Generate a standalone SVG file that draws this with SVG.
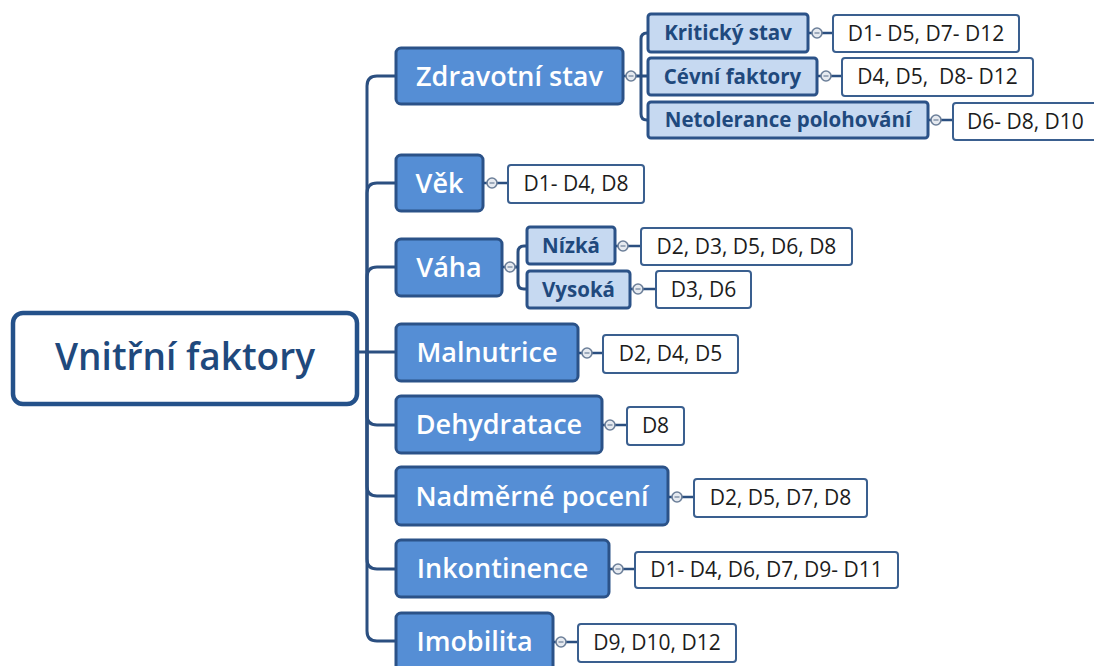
<svg xmlns="http://www.w3.org/2000/svg" width="1094" height="666" viewBox="0 0 1094 666">
<style>
.conn{fill:none;stroke:#2b4f80;stroke-width:3;stroke-linecap:round}
.lk{fill:none;stroke:#2b4f80;stroke-width:2.5}
.btn{fill:#e6eaf0;stroke:#6c7f99;stroke-width:1.6}
.btnm{stroke:#6c7f99;stroke-width:1.2}
.root{fill:#ffffff;stroke:#24518a;stroke-width:4.5}
.rootT{font-family:"Open Sans","DejaVu Sans",sans-serif;font-weight:600;font-size:37px;fill:#1f497d}
.main{fill:#558ed5;stroke:#2b5288;stroke-width:3}
.mainT{font-family:"Open Sans","DejaVu Sans",sans-serif;font-weight:600;font-size:27px;fill:#ffffff}
.sub{fill:#c6d9f1;stroke:#2b5288;stroke-width:3}
.subT{font-family:"Open Sans","DejaVu Sans",sans-serif;font-weight:700;font-size:20.5px;fill:#1f497d}
.leaf{fill:#ffffff;stroke:#3a5f8f;stroke-width:2}
.leafT{font-family:"Open Sans","DejaVu Sans",sans-serif;font-weight:400;font-size:21px;fill:#1c1c1c;white-space:pre}
</style>
<rect width="1094" height="666" fill="#ffffff"/>
<g id="connectors">
<path class="conn" d="M357,352 H396"/>
<path class="conn" d="M367,352 V86 Q367,76 377,76 H396"/>
<path class="conn" d="M367,352 V193 Q367,183 377,183 H396"/>
<path class="conn" d="M367,352 V277 Q367,267 377,267 H396"/>
<path class="conn" d="M367,352 V415 Q367,425 377,425 H396"/>
<path class="conn" d="M367,352 V486 Q367,496 377,496 H396"/>
<path class="conn" d="M367,352 V559 Q367,569 377,569 H396"/>
<path class="conn" d="M367,352 V631 Q367,641 377,641 H396"/>
<path class="conn" d="M636,76 H648 M648,33 H647 Q641,33 641,39 V114 Q641,120 647,120 H648"/>
<path class="conn" d="M515,267 H518 M527,246 H524 Q518,246 518,252 V283 Q518,289 524,289 H527"/>
<path class="lk" d="M623,76 H627"/>
<path class="lk" d="M483,183 H488 M496,183 H508"/>
<path class="lk" d="M502,267 H506"/>
<path class="lk" d="M578,353 H583 M591,353 H603"/>
<path class="lk" d="M602,425 H606 M614,425 H627"/>
<path class="lk" d="M668,497 H673 M681,497 H694"/>
<path class="lk" d="M609,569 H614 M622,569 H635"/>
<path class="lk" d="M553,642 H557 M565,642 H578"/>
<path class="lk" d="M808,33 H813 M821,33 H833"/>
<path class="lk" d="M817,76 H822 M830,76 H842"/>
<path class="lk" d="M928,120 H932 M940,120 H953"/>
<path class="lk" d="M615,246 H619 M627,246 H641"/>
<path class="lk" d="M630,289 H634 M642,289 H656"/>
<g id="buttons">
<circle class="btn" cx="631" cy="76" r="5"/><path class="btnm" d="M628.5,76 H633.5"/>
<circle class="btn" cx="492" cy="183" r="5"/><path class="btnm" d="M489.5,183 H494.5"/>
<circle class="btn" cx="510" cy="267" r="5"/><path class="btnm" d="M507.5,267 H512.5"/>
<circle class="btn" cx="587" cy="353" r="5"/><path class="btnm" d="M584.5,353 H589.5"/>
<circle class="btn" cx="610" cy="425" r="5"/><path class="btnm" d="M607.5,425 H612.5"/>
<circle class="btn" cx="677" cy="497" r="5"/><path class="btnm" d="M674.5,497 H679.5"/>
<circle class="btn" cx="618" cy="569" r="5"/><path class="btnm" d="M615.5,569 H620.5"/>
<circle class="btn" cx="561" cy="642" r="5"/><path class="btnm" d="M558.5,642 H563.5"/>
<circle class="btn" cx="817" cy="33" r="5"/><path class="btnm" d="M814.5,33 H819.5"/>
<circle class="btn" cx="826" cy="76" r="5"/><path class="btnm" d="M823.5,76 H828.5"/>
<circle class="btn" cx="936" cy="120" r="5"/><path class="btnm" d="M933.5,120 H938.5"/>
<circle class="btn" cx="623" cy="246" r="5"/><path class="btnm" d="M620.5,246 H625.5"/>
<circle class="btn" cx="638" cy="289" r="5"/><path class="btnm" d="M635.5,289 H640.5"/>
</g>
</g>
<g id="root"><rect class="root" x="13" y="313" width="344" height="91" rx="10"/><text class="rootT" x="185" y="370" text-anchor="middle">Vnitřní faktory</text></g>
<g id="n-zdravotni"><rect class="main" x="396" y="48" width="227" height="56" rx="5"/><text class="mainT" x="509.5" y="86" text-anchor="middle">Zdravotní stav</text></g>
<g id="n-vek"><rect class="main" x="396" y="155" width="87" height="56" rx="5"/><text class="mainT" x="439.5" y="193" text-anchor="middle">Věk</text></g>
<g id="n-vaha"><rect class="main" x="396" y="239" width="106" height="57" rx="5"/><text class="mainT" x="449" y="277" text-anchor="middle">Váha</text></g>
<g id="n-malnutrice"><rect class="main" x="396" y="324" width="182" height="57" rx="5"/><text class="mainT" x="487" y="362" text-anchor="middle">Malnutrice</text></g>
<g id="n-dehydratace"><rect class="main" x="396" y="396" width="206" height="57" rx="5"/><text class="mainT" x="499" y="434" text-anchor="middle">Dehydratace</text></g>
<g id="n-poceni"><rect class="main" x="396" y="467" width="272" height="58" rx="5"/><text class="mainT" x="532" y="506" text-anchor="middle">Nadměrné pocení</text></g>
<g id="n-inkontinence"><rect class="main" x="396" y="540" width="213" height="57" rx="5"/><text class="mainT" x="502.5" y="578" text-anchor="middle">Inkontinence</text></g>
<g id="n-imobilita"><rect class="main" x="396" y="613" width="157" height="60" rx="5"/><text class="mainT" x="474.5" y="651" text-anchor="middle">Imobilita</text></g>
<g id="s-kriticky"><rect class="sub" x="648" y="14" width="160" height="38" rx="3"/><text class="subT" x="728" y="40" text-anchor="middle">Kritický stav</text></g>
<g id="s-cevni"><rect class="sub" x="648" y="58" width="169" height="37" rx="3"/><text class="subT" x="732.5" y="84" text-anchor="middle">Cévní faktory</text></g>
<g id="s-netolerance"><rect class="sub" x="648" y="102" width="280" height="36" rx="3"/><text class="subT" x="788" y="127" text-anchor="middle">Netolerance polohování</text></g>
<g id="s-nizka"><rect class="sub" x="527" y="227" width="88" height="37" rx="3"/><text class="subT" x="571" y="253" text-anchor="middle">Nízká</text></g>
<g id="s-vysoka"><rect class="sub" x="527" y="271" width="103" height="37" rx="3"/><text class="subT" x="578.5" y="297" text-anchor="middle">Vysoká</text></g>
<g id="l-kriticky"><rect class="leaf" x="833" y="15" width="186" height="37" rx="3"/><text class="leafT" x="926" y="41" text-anchor="middle">D1- D5, D7- D12</text></g>
<g id="l-cevni"><rect class="leaf" x="842" y="58" width="191" height="38" rx="3"/><text class="leafT" x="937.5" y="84" text-anchor="middle">D4, D5,  D8- D12</text></g>
<g id="l-netolerance"><rect class="leaf" x="953" y="103" width="150" height="37" rx="3"/><text class="leafT" x="967" y="129">D6- D8, D10</text></g>
<g id="l-vek"><rect class="leaf" x="508" y="165" width="136" height="38" rx="3"/><text class="leafT" x="576" y="191" text-anchor="middle">D1- D4, D8</text></g>
<g id="l-nizka"><rect class="leaf" x="641" y="228" width="211" height="37" rx="3"/><text class="leafT" x="746.5" y="254" text-anchor="middle">D2, D3, D5, D6, D8</text></g>
<g id="l-vysoka"><rect class="leaf" x="656" y="271" width="95" height="37" rx="3"/><text class="leafT" x="703.5" y="297" text-anchor="middle">D3, D6</text></g>
<g id="l-malnutrice"><rect class="leaf" x="603" y="335" width="135" height="38" rx="3"/><text class="leafT" x="670.5" y="361" text-anchor="middle">D2, D4, D5</text></g>
<g id="l-dehydratace"><rect class="leaf" x="627" y="407" width="57" height="38" rx="3"/><text class="leafT" x="655.5" y="433" text-anchor="middle">D8</text></g>
<g id="l-poceni"><rect class="leaf" x="694" y="479" width="173" height="38" rx="3"/><text class="leafT" x="780.5" y="505" text-anchor="middle">D2, D5, D7, D8</text></g>
<g id="l-inkontinence"><rect class="leaf" x="635" y="552" width="263" height="36" rx="3"/><text class="leafT" x="766.5" y="577" text-anchor="middle">D1- D4, D6, D7, D9- D11</text></g>
<g id="l-imobilita"><rect class="leaf" x="578" y="624" width="158" height="38" rx="3"/><text class="leafT" x="657" y="650" text-anchor="middle">D9, D10, D12</text></g>
</svg>
